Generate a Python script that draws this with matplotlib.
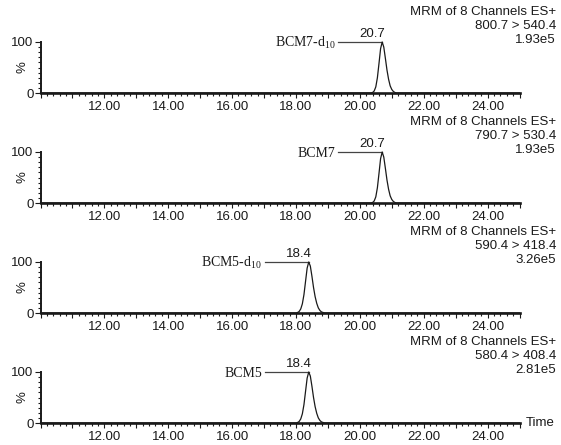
import matplotlib
matplotlib.use("Agg")
import matplotlib.pyplot as plt
from matplotlib.ticker import MultipleLocator, FuncFormatter

plt.rcParams["font.family"] = ["Liberation Sans", "DejaVu Sans"]
plt.rcParams["mathtext.fontset"] = "custom"
plt.rcParams["mathtext.rm"] = "Liberation Serif"
plt.rcParams["mathtext.it"] = "Liberation Serif:italic"

# ---- chromatogram data -------------------------------------------------
time_min, time_max = 10.0, 25.0
header = "MRM of 8 Channels ES+"
compounds = ["BCM7-d$_{10}$", "BCM7", "BCM5-d$_{10}$", "BCM5"]
retention_times = [20.7, 20.7, 18.4, 18.4]
transitions = ["800.7 > 540.4", "790.7 > 530.4", "590.4 > 418.4", "580.4 > 408.4"]
max_intensity = ["1.93e5", "1.93e5", "3.26e5", "2.81e5"]

bcm7_d10_time = [10.00, 20.35, 20.40, 20.45, 20.50, 20.55, 20.60, 20.65, 20.70,
                 20.75, 20.80, 20.85, 20.90, 20.95, 21.00, 21.05, 21.10, 21.15, 25.00]
bcm7_d10_pct = [0, 0, 1, 4, 12, 30, 58, 87, 100, 90, 68, 45, 27, 14, 7, 3, 1, 0, 0]

bcm7_time = [10.00, 20.35, 20.40, 20.45, 20.50, 20.55, 20.60, 20.65, 20.70,
             20.75, 20.80, 20.85, 20.90, 20.95, 21.00, 21.05, 21.10, 21.15, 25.00]
bcm7_pct = [0, 0, 1, 4, 12, 30, 58, 87, 100, 90, 68, 45, 27, 14, 7, 3, 1, 0, 0]

bcm5_d10_time = [10.00, 18.00, 18.05, 18.10, 18.15, 18.20, 18.25, 18.30, 18.35, 18.40,
                 18.45, 18.50, 18.55, 18.60, 18.65, 18.70, 18.75, 18.80, 18.85, 18.90, 25.00]
bcm5_d10_pct = [0, 0, 1, 3, 8, 18, 36, 62, 88, 100, 92, 72, 50, 32, 19, 10, 5, 2, 1, 0, 0]

bcm5_time = [10.00, 18.00, 18.05, 18.10, 18.15, 18.20, 18.25, 18.30, 18.35, 18.40,
             18.45, 18.50, 18.55, 18.60, 18.65, 18.70, 18.75, 18.80, 18.85, 18.90, 25.00]
bcm5_pct = [0, 0, 1, 3, 8, 18, 36, 62, 88, 100, 92, 72, 50, 32, 19, 10, 5, 2, 1, 0, 0]

traces = [(bcm7_d10_time, bcm7_d10_pct), (bcm7_time, bcm7_pct),
          (bcm5_d10_time, bcm5_d10_pct), (bcm5_time, bcm5_pct)]

# ---- layout (pixel units of a 561 x 445 canvas) --------------------------
W, H = 561, 445
fig = plt.figure(figsize=(W / 100, H / 100), dpi=100)

ax_left, ax_right = 40.5, 519.5
panel_top0, panel_h, panel_step = 42.0, 51.0, 110.0
ink = "#1a1a1a"
fs = 9.5


def xfmt(v, pos):
    r = round(v)
    if abs(v - r) < 1e-6 and r % 2 == 0 and 12 <= r <= 24:
        return f"{v:.2f}"
    return ""


for i, (label, rt, trans, inten, (t, p)) in enumerate(
        zip(compounds, retention_times, transitions, max_intensity, traces)):
    top_px = panel_top0 + i * panel_step
    ax = fig.add_axes([ax_left / W, 1 - (top_px + panel_h) / H,
                       (ax_right - ax_left) / W, panel_h / H])
    ax.plot(t, p, color=ink, lw=0.9, clip_on=False, zorder=3)
    ax.set_xlim(time_min, time_max)
    ax.set_ylim(0, 100)

    for side in ("top", "right"):
        ax.spines[side].set_visible(False)
    ax.spines["left"].set_linewidth(1.4)
    ax.spines["bottom"].set_linewidth(1.9)
    ax.spines["left"].set_color(ink)
    ax.spines["bottom"].set_color(ink)

    ax.xaxis.set_major_locator(MultipleLocator(1.0))
    ax.xaxis.set_minor_locator(MultipleLocator(0.2))
    ax.xaxis.set_major_formatter(FuncFormatter(xfmt))
    ax.set_yticks([0, 100])
    ax.set_yticklabels(["0", "100"])
    ax.yaxis.set_minor_locator(MultipleLocator(10))

    ax.tick_params(axis="x", which="major", direction="out", length=3.8,
                   width=0.8, pad=2.0, labelsize=fs, colors=ink)
    ax.tick_params(axis="x", which="minor", direction="out", length=2.2, width=0.8, colors=ink)
    ax.tick_params(axis="y", which="major", direction="out", length=4.0,
                   width=0.8, pad=1.0, labelsize=fs, colors=ink)
    ax.tick_params(axis="y", which="minor", direction="out", length=2.0, width=0.8, colors=ink)

    # "%" axis caption
    fig.text(22 / W, 1 - (top_px + panel_h / 2) / H, "%", rotation=90,
             ha="center", va="center", fontsize=fs, color=ink)

    # header block, right aligned
    for k, line in enumerate([header, trans, inten]):
        fig.text(556 / W, 1 - (top_px - 30 + 14 * k) / H, line,
                 ha="right", va="center", fontsize=fs, color=ink)

    # peak annotation: compound name, leader line and apex time
    lead_start = rt - 1.38
    ax.plot([lead_start, rt], [100, 100], color="#444444", lw=0.9,
            clip_on=False, zorder=2)
    ax.annotate(label, xy=(lead_start - 0.08, 100), xytext=(0, -3.3),
                textcoords="offset points", ha="right", va="baseline",
                fontsize=10, family="Liberation Serif", color=ink,
                annotation_clip=False)
    ax.annotate(f"{rt:.1f}", xy=(rt + 0.1, 100), xytext=(0, 3.6),
                textcoords="offset points", ha="right", va="baseline",
                fontsize=fs, color=ink, annotation_clip=False)

    if i == len(compounds) - 1:
        fig.text(526 / W, 1 - (top_px + panel_h) / H, "Time",
                 ha="left", va="center", fontsize=fs, color=ink)

fig.savefig("out.png", dpi=100)
